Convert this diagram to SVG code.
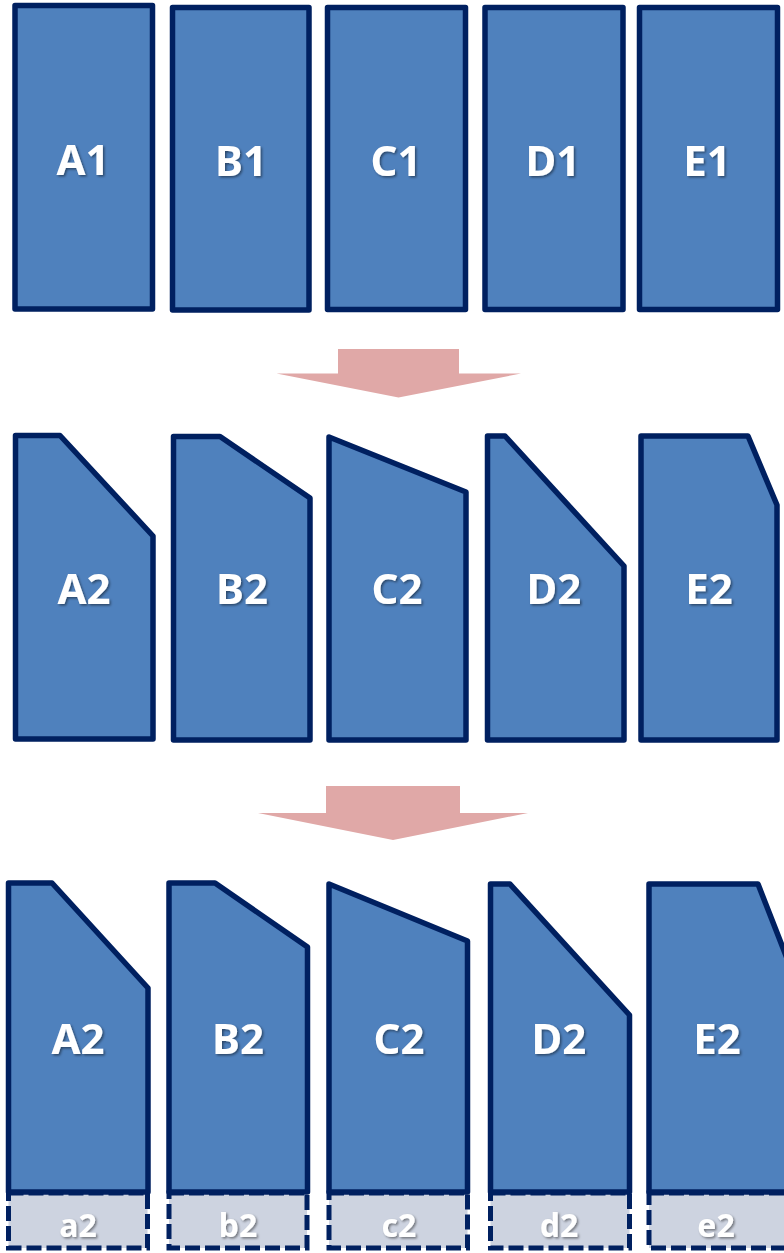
<svg xmlns="http://www.w3.org/2000/svg" width="784" height="1253" viewBox="0 0 784 1253">
  <defs>
    <filter id="txtShadow" x="-20%" y="-20%" width="140%" height="140%">
      <feDropShadow dx="1.5" dy="1.5" stdDeviation="1" flood-color="#000000" flood-opacity="0.45"/>
    </filter>
    <style>
      .block { fill: #4F81BD; stroke: #002060; stroke-width: 5.5; stroke-linejoin: round; }
      .slot { fill: #CDD3E0; stroke: #002060; stroke-width: 5; stroke-dasharray: 15 5; }
      .big { font-family: "Noto Sans", "Liberation Sans", sans-serif; font-weight: 700; font-size: 42px; fill: #FFFFFF; text-anchor: middle; filter: url(#txtShadow); }
      .small { font-family: "Noto Sans", "Liberation Sans", sans-serif; font-weight: 700; font-size: 32px; fill: #FFFFFF; text-anchor: middle; filter: url(#txtShadow); }
      .step { fill: #E0A8A7; }
    </style>
  </defs>
  <rect width="784" height="1253" fill="#FFFFFF"/>

  <!-- Row 1: original blocks -->
  <g id="A1">
    <rect class="block" x="15" y="5.5" width="137.5" height="303.5"/>
    <text class="big" x="83" y="175">A1</text>
  </g>
  <g id="B1">
    <rect class="block" x="172.5" y="7.5" width="136.5" height="302.5"/>
    <text class="big" x="241" y="176">B1</text>
  </g>
  <g id="C1">
    <rect class="block" x="327.5" y="7.5" width="138" height="302"/>
    <text class="big" x="396" y="176">C1</text>
  </g>
  <g id="D1">
    <rect class="block" x="485" y="7.5" width="138" height="302"/>
    <text class="big" x="553" y="176">D1</text>
  </g>
  <g id="E1">
    <rect class="block" x="639.5" y="7.5" width="138" height="302"/>
    <text class="big" x="707" y="176">E1</text>
  </g>

  <!-- Step arrows -->
  <g id="connectors">
    <polygon class="step" points="338,349 459,349 459,373.5 521,373.5 398.5,397.5 276.5,373.5 338,373.5"/>
    <polygon class="step" points="326,786 460,786 460,813 528,813 393,840 258,813 326,813"/>
  </g>

  <!-- Row 2: trimmed blocks -->
  <g id="A2">
    <polygon class="block" points="15.5,435.5 60,435.5 153,536 153,739 15.5,739"/>
    <text class="big" x="84" y="604">A2</text>
  </g>
  <g id="B2">
    <polygon class="block" points="173.5,436.5 220,436.5 310,498 310,740 173.5,740"/>
    <text class="big" x="242" y="604">B2</text>
  </g>
  <g id="C2">
    <polygon class="block" points="329,437 466,492 466,740 329,740"/>
    <text class="big" x="397" y="604">C2</text>
  </g>
  <g id="D2">
    <polygon class="block" points="487.5,436 505,436 624,566 624,740 487.5,740"/>
    <text class="big" x="554" y="604">D2</text>
  </g>
  <g id="E2">
    <polygon class="block" points="641,436 748,436 777,505 777,740 641,740"/>
    <text class="big" x="709" y="604">E2</text>
  </g>

  <!-- Row 3: trimmed blocks with appended slots -->
  <g id="A2-slot">
    <rect class="slot" x="8.5" y="1193" width="139" height="55"/>
    <polygon class="block" points="8.5,883 52,883 148,988 148,1192 8.5,1192"/>
    <text class="big" x="78" y="1054">A2</text>
    <text class="small" x="78" y="1237">a2</text>
  </g>
  <g id="B2-slot">
    <rect class="slot" x="169" y="1193" width="138" height="55"/>
    <polygon class="block" points="169,883 215,883 307.5,947 307.5,1192 169,1192"/>
    <text class="big" x="238" y="1054">B2</text>
    <text class="small" x="238" y="1237">b2</text>
  </g>
  <g id="C2-slot">
    <rect class="slot" x="329" y="1193" width="138.5" height="55"/>
    <polygon class="block" points="329,884 467.5,941 467.5,1192 329,1192"/>
    <text class="big" x="399" y="1054">C2</text>
    <text class="small" x="399" y="1237">c2</text>
  </g>
  <g id="D2-slot">
    <rect class="slot" x="490.5" y="1193" width="139" height="55"/>
    <polygon class="block" points="490.5,884 510,884 629.5,1015 629.5,1192 490.5,1192"/>
    <text class="big" x="559" y="1054">D2</text>
    <text class="small" x="559" y="1237">d2</text>
  </g>
  <g id="E2-slot">
    <rect class="slot" x="649" y="1193" width="141" height="55"/>
    <polygon class="block" points="649,884 758,884 790,966 790,1192 649,1192"/>
    <text class="big" x="717" y="1054">E2</text>
    <text class="small" x="716" y="1237">e2</text>
  </g>
</svg>
